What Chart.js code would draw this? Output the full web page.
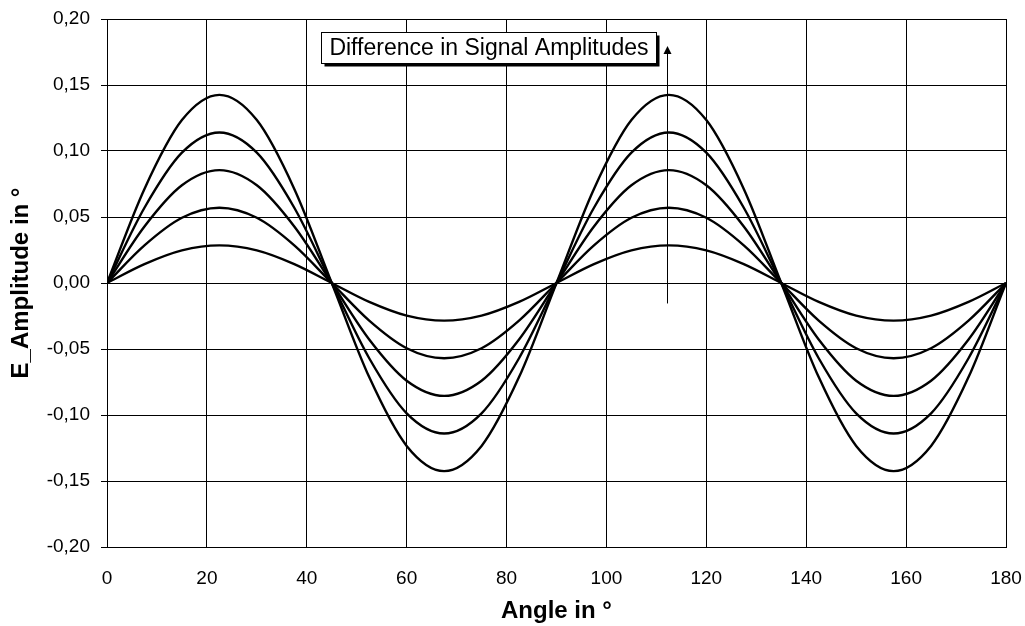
<!DOCTYPE html>
<html>
<head>
<meta charset="utf-8">
<script src="https://cdn.jsdelivr.net/npm/chart.js"></script>
<style>
  body { margin: 0; background: #fff; }
  #wrap { width: 1025px; height: 626px; }
</style>
</head>
<body>
<div id="wrap"><canvas id="signalChart" width="1025" height="626"></canvas></div>
<script>
// Angle samples (degrees)
const angles = [0, 7.5, 15, 22.5, 30, 37.5, 45, 52.5, 60, 67.5, 75, 82.5, 90,
                97.5, 105, 112.5, 120, 127.5, 135, 142.5, 150, 157.5, 165, 172.5, 180];

// Amplitude curves (largest to smallest)
const ampA = [0, 0.0713, 0.1234, 0.1425, 0.1234, 0.0713, 0, -0.0713, -0.1234, -0.1425, -0.1234, -0.0713, 0,
              0.0713, 0.1234, 0.1425, 0.1234, 0.0713, 0, -0.0713, -0.1234, -0.1425, -0.1234, -0.0713, 0];
const ampB = [0, 0.0570, 0.0987, 0.1140, 0.0987, 0.0570, 0, -0.0570, -0.0987, -0.1140, -0.0987, -0.0570, 0,
              0.0570, 0.0987, 0.1140, 0.0987, 0.0570, 0, -0.0570, -0.0987, -0.1140, -0.0987, -0.0570, 0];
const ampC = [0, 0.0428, 0.0740, 0.0855, 0.0740, 0.0428, 0, -0.0428, -0.0740, -0.0855, -0.0740, -0.0428, 0,
              0.0428, 0.0740, 0.0855, 0.0740, 0.0428, 0, -0.0428, -0.0740, -0.0855, -0.0740, -0.0428, 0];
const ampD = [0, 0.0285, 0.0494, 0.0570, 0.0494, 0.0285, 0, -0.0285, -0.0494, -0.0570, -0.0494, -0.0285, 0,
              0.0285, 0.0494, 0.0570, 0.0494, 0.0285, 0, -0.0285, -0.0494, -0.0570, -0.0494, -0.0285, 0];
const ampE = [0, 0.0143, 0.0247, 0.0285, 0.0247, 0.0143, 0, -0.0143, -0.0247, -0.0285, -0.0247, -0.0143, 0,
              0.0143, 0.0247, 0.0285, 0.0247, 0.0143, 0, -0.0143, -0.0247, -0.0285, -0.0247, -0.0143, 0];

const xTicks = [0, 20, 40, 60, 80, 100, 120, 140, 160, 180];
const yTicks = [-0.20, -0.15, -0.10, -0.05, 0, 0.05, 0.10, 0.15, 0.20];

const annotationText = 'Difference in Signal Amplitudes';

const FONT = '"Liberation Sans", Arial, sans-serif';

function toPoints(values) {
    return values.map((v, i) => ({ x: angles[i], y: v }));
}

function curve(values) {
    return {
        data: toPoints(values),
        borderColor: '#000',
        borderWidth: 2.4,
        pointRadius: 0,
        fill: false,
        cubicInterpolationMode: 'monotone'
    };
}

// Box label + upward arrow, placed in data coordinates
const annotationPlugin = {
    id: 'annotationPlugin',
    afterDatasetsDraw(chart) {
        const { ctx, scales: { x, y } } = chart;
        ctx.save();

        // arrow
        const ax = Math.round(x.getPixelForValue(112.2)) + 0.5;
        const aBottom = y.getPixelForValue(-0.0155);
        const aTip = y.getPixelForValue(0.1795);
        ctx.strokeStyle = '#000';
        ctx.lineWidth = 1;
        ctx.beginPath();
        ctx.moveTo(ax, aBottom);
        ctx.lineTo(ax, aTip + 6);
        ctx.stroke();
        ctx.fillStyle = '#000';
        ctx.beginPath();
        ctx.moveTo(ax, aTip);
        ctx.lineTo(ax - 4, aTip + 8);
        ctx.lineTo(ax + 4, aTip + 8);
        ctx.closePath();
        ctx.fill();

        // box with shadow
        const left = Math.round(x.getPixelForValue(42.8)) + 0.5;
        const right = Math.round(x.getPixelForValue(109.9)) + 0.5;
        const top = Math.round(y.getPixelForValue(0.1904)) + 0.5;
        const bottom = Math.round(y.getPixelForValue(0.1669)) + 0.5;
        ctx.fillStyle = '#000';
        ctx.fillRect(left + 3, top + 3, right - left, bottom - top);
        ctx.fillStyle = '#fff';
        ctx.fillRect(left, top, right - left, bottom - top);
        ctx.strokeRect(left, top, right - left, bottom - top);

        ctx.fillStyle = '#000';
        ctx.font = '23px ' + FONT;
        ctx.textAlign = 'center';
        ctx.textBaseline = 'middle';
        ctx.fillText(annotationText, (left + right) / 2, (top + bottom) / 2 + 1);
        ctx.restore();
    }
};

// frame round the plot area
const framePlugin = {
    id: 'framePlugin',
    afterDraw(chart) {
        const { ctx, chartArea: a } = chart;
        ctx.save();
        ctx.strokeStyle = '#000';
        ctx.lineWidth = 1;
        ctx.strokeRect(Math.round(a.left) + 0.5, Math.round(a.top) + 0.5,
                       Math.round(a.right - a.left), Math.round(a.bottom - a.top));
        ctx.restore();
    }
};

new Chart(document.getElementById('signalChart').getContext('2d'), {
    type: 'line',
    data: {
        datasets: [curve(ampA), curve(ampB), curve(ampC), curve(ampD), curve(ampE)]
    },
    options: {
        responsive: false,
        animation: false,
        layout: { padding: { left: 0, top: 19, right: 19, bottom: 0 } },
        plugins: {
            legend: { display: false },
            tooltip: { enabled: false }
        },
        scales: {
            x: {
                type: 'linear',
                min: 0,
                max: 180,
                afterBuildTicks: (s) => { s.ticks = xTicks.map(v => ({ value: v })); },
                afterFit: (s) => {
                    s.height = 79;
                    s.paddingLeft = 0;
                    s.paddingRight = 0;
                },
                grid: { color: '#000', lineWidth: 1, drawTicks: false },
                border: { color: '#000', width: 1 },
                ticks: {
                    color: '#000',
                    font: { family: FONT, size: 19 },
                    padding: 20,
                    maxRotation: 0
                },
                title: {
                    display: true,
                    text: 'Angle in °',
                    color: '#000',
                    font: { family: FONT, size: 24, weight: 'bold' },
                    padding: { top: 0, bottom: 0 }
                }
            },
            y: {
                type: 'linear',
                min: -0.2,
                max: 0.2,
                afterBuildTicks: (s) => { s.ticks = yTicks.map(v => ({ value: v })); },
                afterFit: (s) => {
                    s.width = 107;
                    s.paddingTop = 0;
                    s.paddingBottom = 0;
                },
                grid: { color: '#000', lineWidth: 1, drawTicks: true, tickLength: 6 },
                border: { color: '#000', width: 1 },
                ticks: {
                    color: '#000',
                    font: { family: FONT, size: 19 },
                    padding: 11,
                    callback: (v) => v.toFixed(2).replace('.', ',')
                },
                title: {
                    display: true,
                    text: 'E_Amplitude in °',
                    color: '#000',
                    font: { family: FONT, size: 24, weight: 'bold' },
                    padding: { top: 7, bottom: 0 }
                }
            }
        }
    },
    plugins: [annotationPlugin, framePlugin]
});
</script>
</body>
</html>
